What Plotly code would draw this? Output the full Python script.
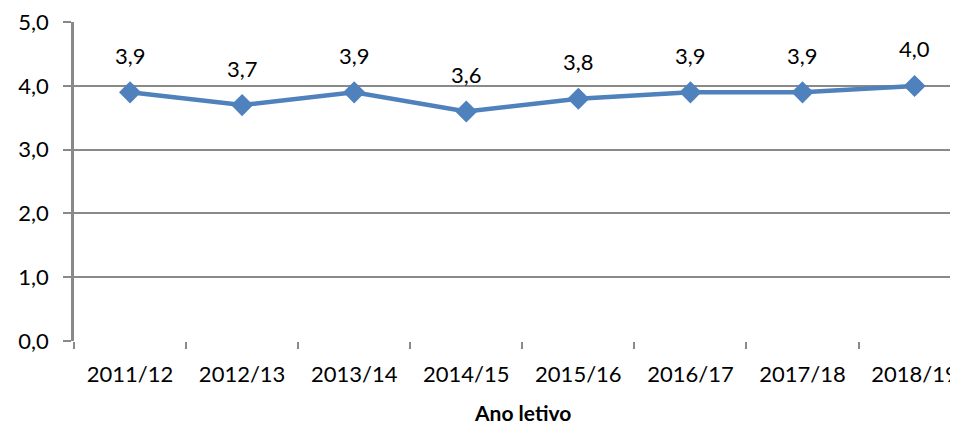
import plotly.graph_objects as go

categories = ["2011/12", "2012/13", "2013/14", "2014/15", "2015/16", "2016/17", "2017/18", "2018/19"]
values = [3.9, 3.7, 3.9, 3.6, 3.8, 3.9, 3.9, 4.0]
y_ticks = [0, 1, 2, 3, 4, 5]
x_title = "Ano letivo"

FONT = "Lato, Open Sans, sans-serif"
BLUE = "#4F81BD"
GRID = "#898989"

fig = go.Figure()
fig.add_trace(go.Scatter(
    x=categories, y=values, mode="lines+markers",
    line=dict(color=BLUE, width=4.5),
    marker=dict(symbol="diamond", size=17, color=BLUE),
    hoverinfo="skip", showlegend=False,
))

for c, v in zip(categories, values):
    fig.add_annotation(x=c, y=v, text=f"{v:.1f}".replace(".", ","), showarrow=False,
                       yshift=37, font=dict(family=FONT, size=22, color="#000"))

fig.add_annotation(x=3.5, xref="x", y=0, yref="paper", yanchor="middle", yshift=-71,
                   text=f"<b>{x_title}</b>", showarrow=False,
                   font=dict(family=FONT, size=21, color="#000"))

# page body has an 8px margin, so the figure is sized/offset to compensate
fig.update_layout(
    width=950, height=417,
    margin=dict(l=66, r=0, t=14, b=84),
    paper_bgcolor="white", plot_bgcolor="white",
    separators=",.",
    font=dict(family=FONT, size=22, color="#000"),
    xaxis=dict(
        type="category",
        range=[-0.5, 7.316],
        tickson="boundaries", ticks="outside", ticklen=7, tickwidth=2, tickcolor=GRID,
        showgrid=False, zeroline=False, showline=False,
        ticklabelstandoff=18, ticklabeloverflow="allow",
    ),
    yaxis=dict(
        range=[0, 5.003], tickvals=y_ticks, tickformat=".1f",
        showgrid=True, gridcolor=GRID, gridwidth=2,
        ticks="outside", ticklen=8, tickwidth=2, tickcolor=GRID,
        showline=True, linecolor=GRID, linewidth=2.5,
        zeroline=False, ticklabelstandoff=10, ticklabeloverflow="allow",
    ),
)

fig.write_html("out.html")
